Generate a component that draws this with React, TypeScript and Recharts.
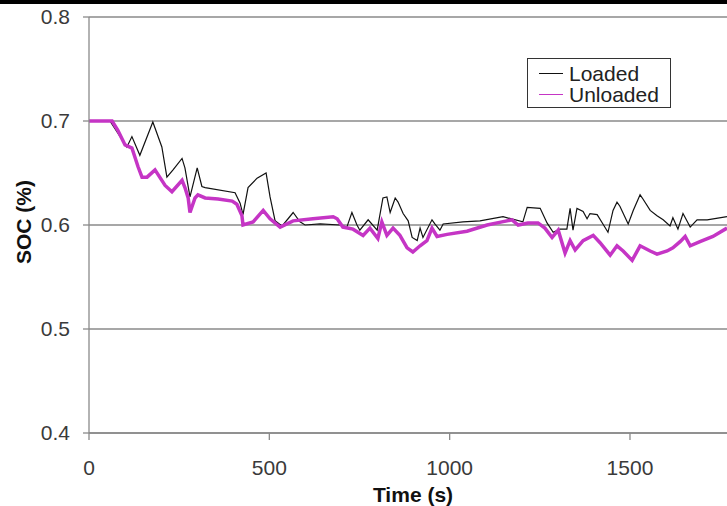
import { LineChart, Line, XAxis, YAxis, CartesianGrid, Legend } from 'recharts'

// time (s) / state of charge
const loadedTime = [
  0, 58, 105, 119, 141, 177, 202, 216, 233, 258, 266, 280, 300, 313, 322, 405, 419, 427, 441, 466,
  491, 502, 516, 535, 552, 566, 585, 599, 641, 696, 715, 729, 743, 751, 774, 799, 815, 826, 835, 849,
  857, 871, 885, 896, 910, 918, 926, 951, 959, 973, 982, 1037, 1084, 1148, 1203, 1215, 1251, 1270, 1287, 1306,
  1325, 1334, 1342, 1353, 1370, 1381, 1389, 1409, 1425, 1439, 1453, 1464, 1472, 1495, 1509, 1528, 1536, 1556, 1575, 1592,
  1611, 1619, 1633, 1647, 1667, 1686, 1714, 1769,
]
const loadedSoc = [
  0.700, 0.700, 0.675, 0.685, 0.667, 0.699, 0.675, 0.646, 0.653, 0.664, 0.655, 0.627, 0.655, 0.637, 0.636, 0.631, 0.621, 0.610, 0.636, 0.645,
  0.650, 0.627, 0.604, 0.599, 0.606, 0.612, 0.603, 0.600, 0.601, 0.600, 0.598, 0.612, 0.600, 0.595, 0.605, 0.595, 0.626, 0.627, 0.612, 0.626,
  0.622, 0.611, 0.604, 0.588, 0.585, 0.597, 0.588, 0.605, 0.601, 0.595, 0.601, 0.603, 0.604, 0.608, 0.603, 0.617, 0.616, 0.602, 0.593, 0.596,
  0.596, 0.616, 0.595, 0.616, 0.613, 0.606, 0.611, 0.610, 0.601, 0.593, 0.614, 0.622, 0.618, 0.601, 0.614, 0.629, 0.625, 0.614, 0.609, 0.605,
  0.599, 0.607, 0.596, 0.611, 0.598, 0.605, 0.605, 0.608,
]

const unloadedTime = [
  0, 64, 80, 100, 119, 136, 147, 161, 183, 211, 230, 258, 266, 275, 280, 294, 302, 322, 358, 397,
  410, 424, 427, 455, 483, 502, 530, 566, 621, 677, 688, 704, 732, 760, 779, 801, 812, 826, 843, 862,
  882, 898, 918, 937, 951, 965, 993, 1048, 1104, 1145, 1173, 1190, 1217, 1245, 1264, 1284, 1301, 1320, 1334, 1348,
  1370, 1398, 1417, 1445, 1464, 1481, 1506, 1528, 1556, 1575, 1603, 1619, 1639, 1653, 1667, 1694, 1730, 1769,
]
const unloadedSoc = [
  0.700, 0.700, 0.691, 0.677, 0.674, 0.656, 0.646, 0.646, 0.653, 0.638, 0.632, 0.643, 0.636, 0.626, 0.612, 0.626, 0.629, 0.626, 0.625, 0.623,
  0.620, 0.609, 0.600, 0.603, 0.614, 0.606, 0.598, 0.604, 0.606, 0.608, 0.606, 0.598, 0.596, 0.590, 0.597, 0.587, 0.603, 0.590, 0.597, 0.590,
  0.578, 0.574, 0.580, 0.585, 0.597, 0.589, 0.591, 0.594, 0.600, 0.603, 0.605, 0.600, 0.602, 0.602, 0.597, 0.588, 0.595, 0.573, 0.585, 0.576,
  0.585, 0.590, 0.583, 0.571, 0.580, 0.575, 0.566, 0.580, 0.575, 0.572, 0.575, 0.578, 0.584, 0.589, 0.580, 0.584, 0.589, 0.597,
]

const xTicks = [0, 500, 1000, 1500]
const yTicks = [0.4, 0.5, 0.6, 0.7, 0.8]

const loaded = loadedTime.map((t, i) => ({ t, soc: loadedSoc[i] }))
const unloaded = unloadedTime.map((t, i) => ({ t, soc: unloadedSoc[i] }))

const FONT = '"Liberation Sans", Arial, sans-serif'
const MAGENTA = '#c535c5'

function LegendBox() {
  const rows = [
    { name: 'Loaded', color: '#111', w: 1.2 },
    { name: 'Unloaded', color: MAGENTA, w: 1.2 },
  ]
  return (
    <div style={{ border: '1.5px solid #333', background: '#fff', width: 144, height: 50, padding: '4px 0 0 11px', boxSizing: 'border-box', fontFamily: FONT }}>
      {rows.map(r => (
        <div key={r.name} style={{ display: 'flex', alignItems: 'center', height: 21, fontSize: 21, color: '#222', lineHeight: '21px' }}>
          <span style={{ display: 'inline-block', width: 24, height: 0, borderTop: `${r.w}px solid ${r.color}`, marginRight: 6 }} />
          {r.name}
        </div>
      ))}
    </div>
  )
}

export default function App() {
  return (
    <div style={{ position: 'absolute', left: 0, top: 0, width: 727, height: 506, background: '#fff', overflow: 'hidden', fontFamily: FONT }}>
      <div style={{ position: 'absolute', left: 0, top: 0, width: 727, height: 4, background: '#000', zIndex: 2 }} />
      <LineChart width={727} height={506} margin={{ top: 17, right: 0, bottom: 0, left: 0 }}>
        <CartesianGrid vertical={false} stroke="#8a8a8a" strokeWidth={1.3} />
        <XAxis
          dataKey="t"
          type="number"
          domain={[0, 1769]}
          allowDataOverflow
          ticks={xTicks}
          height={73}
          stroke="#8a8a8a"
          strokeWidth={1.3}
          tickSize={7}
          tickMargin={20}
          tick={{ fill: '#3a3a3a', fontSize: 21, fontFamily: FONT }}
          label={{ value: 'Time (s)', position: 'insideBottom', offset: 4, dx: 5, fill: '#111', fontSize: 21, fontWeight: 'bold', fontFamily: FONT }}
        />
        <YAxis
          type="number"
          domain={[0.4, 0.8]}
          ticks={yTicks}
          width={89}
          stroke="#8a8a8a"
          strokeWidth={1.3}
          tickSize={6}
          tickMargin={13}
          tickFormatter={(v: number) => v.toFixed(1)}
          tick={{ fill: '#3a3a3a', fontSize: 21, fontFamily: FONT }}
          label={{
            content: (p: any) => {
              const vb = p.viewBox
              const cx = vb.x + 23
              const cy = vb.y + vb.height / 2 - 3
              return (
                <text x={cx} y={cy} transform={`rotate(-90 ${cx} ${cy})`} textAnchor="middle" dominantBaseline="central"
                  fill="#111" fontSize={21} fontWeight="bold" fontFamily={FONT}>SOC (%)</text>
              )
            },
          }}
        />
        <Legend
          layout="horizontal"
          verticalAlign="middle"
          align="center"
          content={() => <LegendBox />}
          wrapperStyle={{ left: 527, top: 58, width: 146, height: 52 }}
        />
        <Line data={loaded} dataKey="soc" name="Loaded" type="linear" stroke="#111" strokeWidth={1.2} dot={false} isAnimationActive={false} />
        <Line data={unloaded} dataKey="soc" name="Unloaded" type="linear" stroke={MAGENTA} strokeWidth={3.5} dot={false} isAnimationActive={false} />
      </LineChart>
    </div>
  )
}
